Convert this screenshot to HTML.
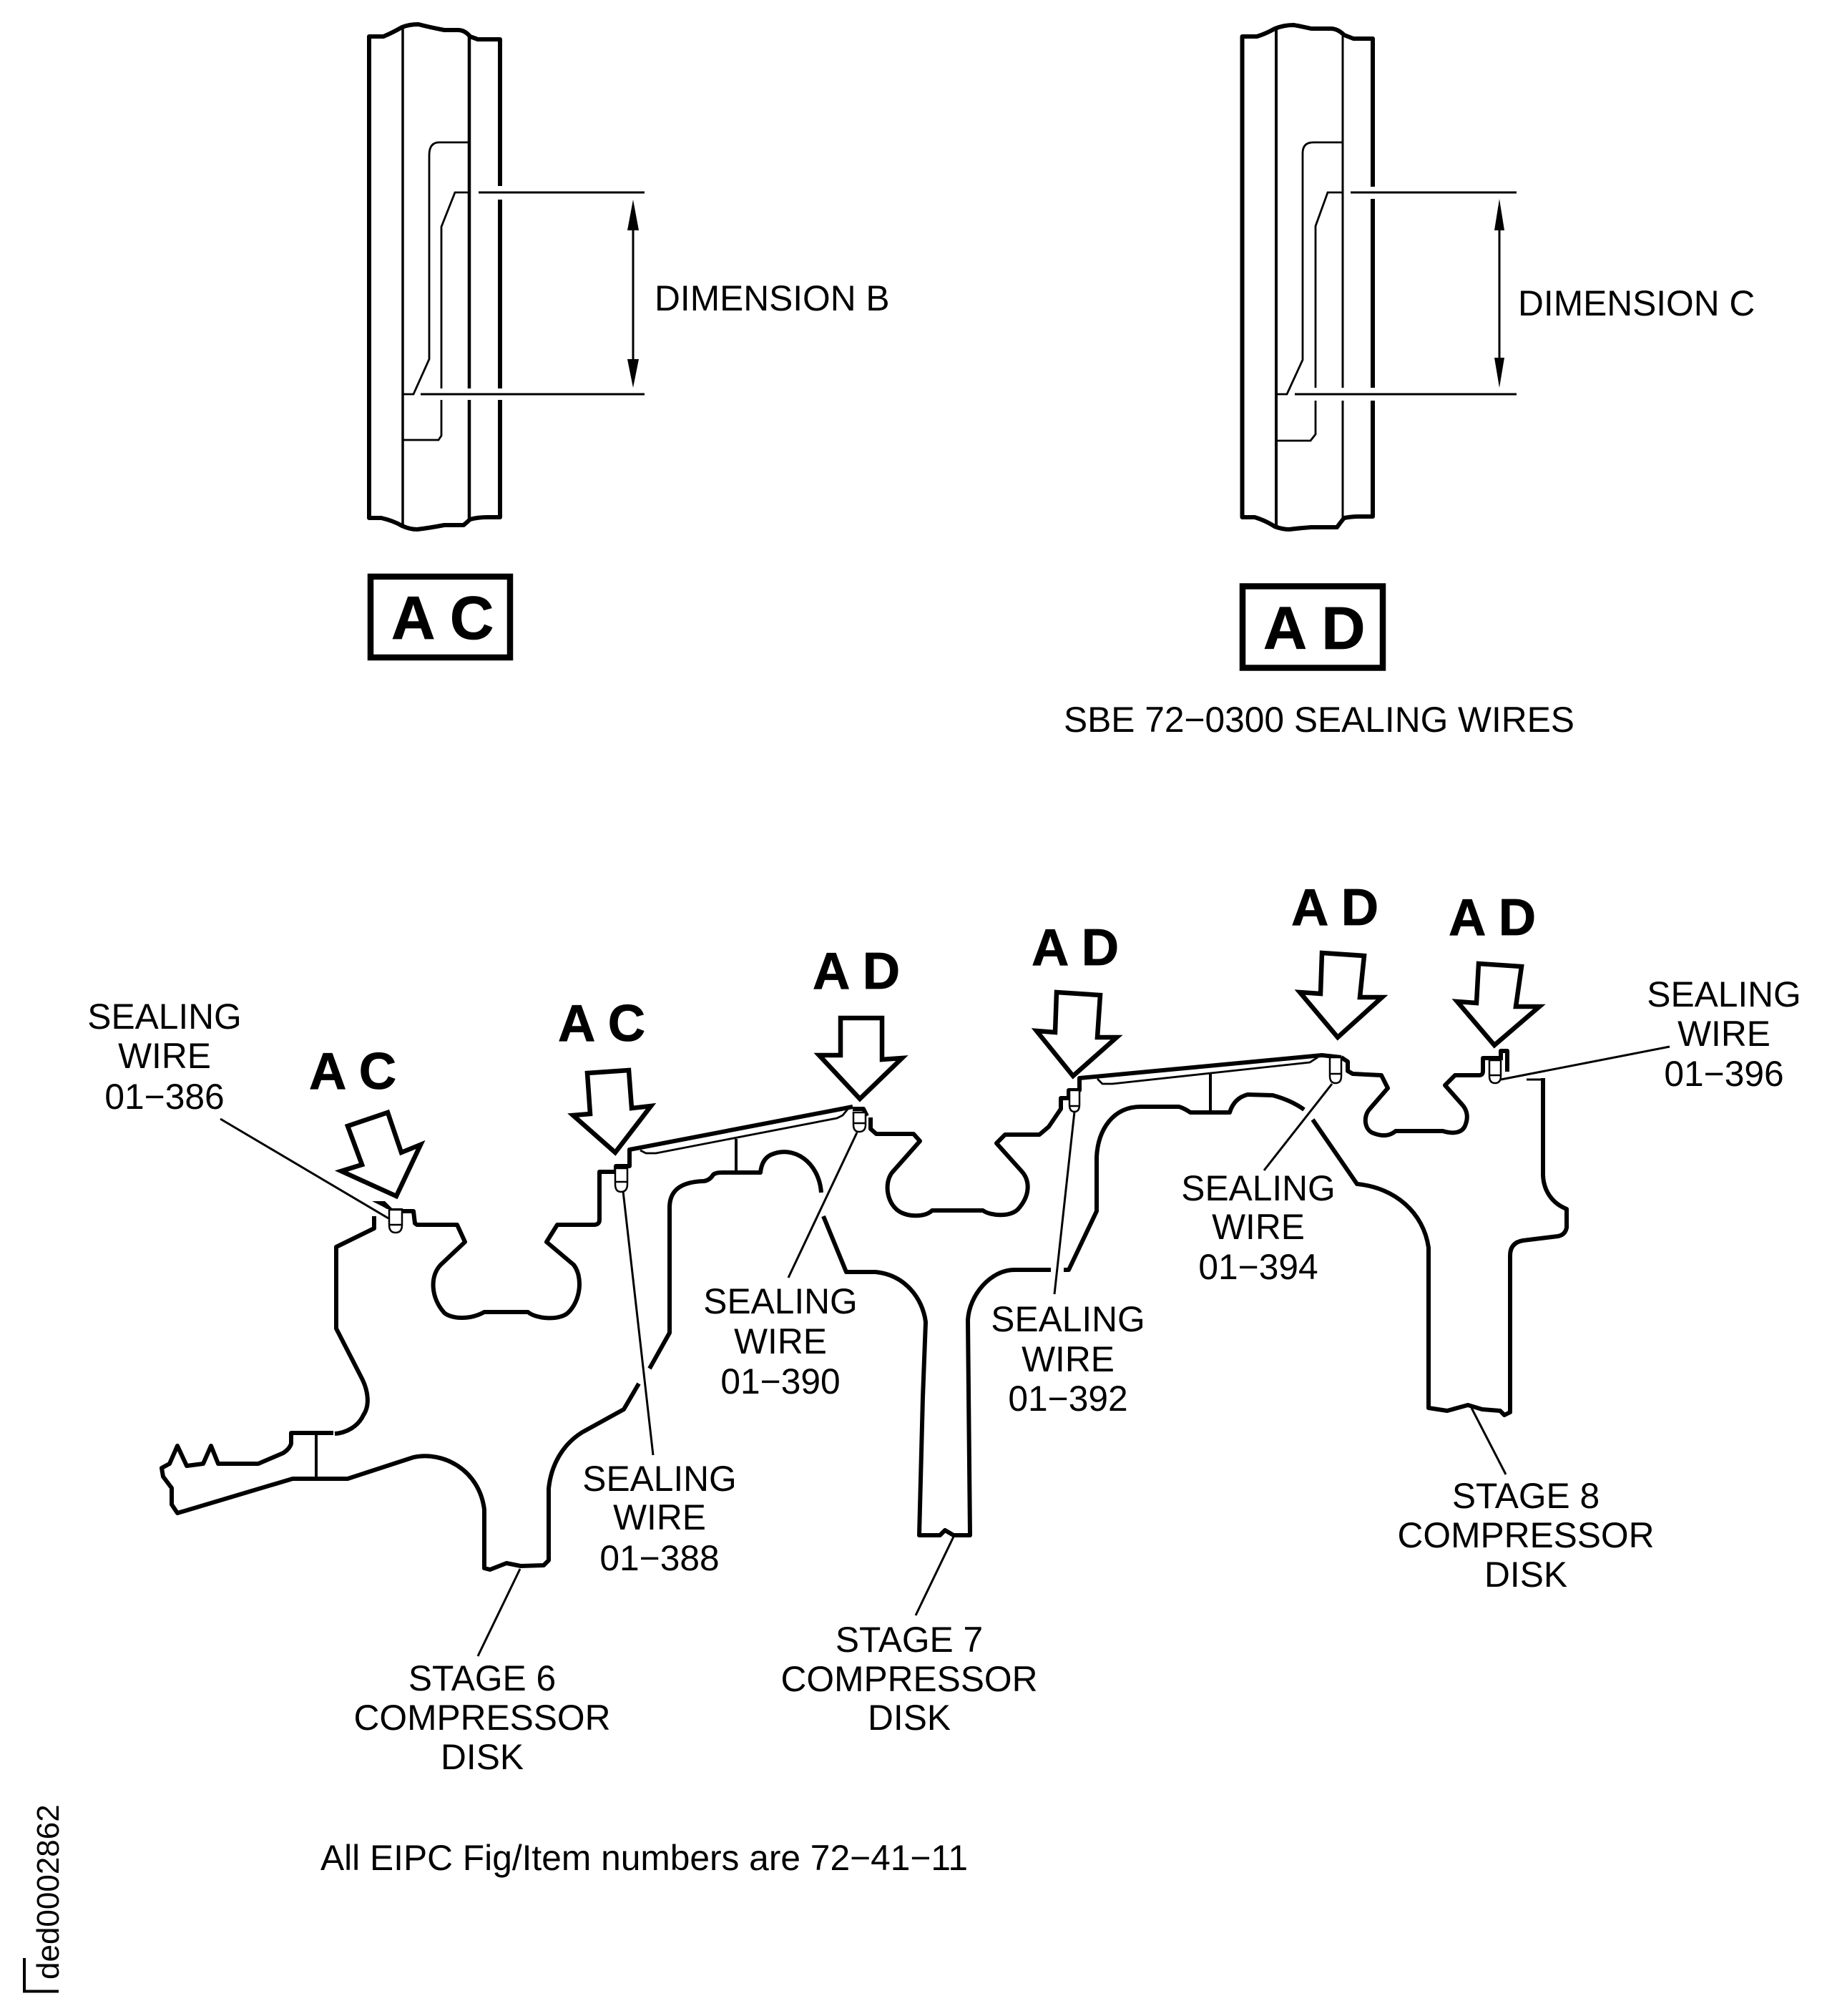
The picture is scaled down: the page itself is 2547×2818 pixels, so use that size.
<!DOCTYPE html>
<html><head><meta charset="utf-8"><style>
html,body{margin:0;padding:0;background:#fff}
svg{display:block}
text{font-family:"Liberation Sans",Arial,sans-serif;fill:#000}
.t{font-size:49.7px;text-anchor:middle}
.l{font-size:49.7px}
.b{font-size:72.5px;font-weight:700;stroke:#000;stroke-width:.8}
.m{fill:none;stroke:#000;stroke-width:6;stroke-linejoin:round;stroke-linecap:butt}
.a{fill:#fff;stroke:#000;stroke-width:6.500;stroke-linejoin:miter;stroke-miterlimit:6}
.n{fill:none;stroke:#000;stroke-width:3}
.c{fill:#fff;stroke:#000;stroke-width:2.5}
</style></head><body>
<svg xmlns="http://www.w3.org/2000/svg" width="2547" height="2818" viewBox="0 0 2547 2818">
<rect width="2547" height="2818" fill="#fff"/>

<!-- Top left section -->
<path class="m" d="M699 260V55H668L657 51Q650 42 640 42H621Q600 38 585 34Q572 34 562 38Q548 46 536 51H516V724H533Q550 728 562 735Q573 740 583 740Q600 738 621 734H648Q653 730 657 726Q668 723 681 723H699V559M699 543V279"/>
<path class="n" style="stroke-width:3.500" d="M563 38V735"/>
<path class="n" style="stroke-width:4.500" d="M656 50V543M656 559V727"/>
<path class="n" style="stroke-width:2.8" d="M654 199H614Q600 199 600 217V502L578 551H564"/>
<path class="n" style="stroke-width:2.8" d="M654 269H636L617 317V543M617 559V609L613 615H564"/>
<path class="n" d="M669 269H901M588 551H901M885 300V520"/>
<path d="M885 279L893 322H877ZM885 542L877 502H893Z"/>
<text class="l" x="915" y="434">DIMENSION B</text>
<rect x="518" y="806" width="195" height="113" fill="none" stroke="#000" stroke-width="8.5"/>
<text class="b" x="547" y="893" style="font-size:85px">A C</text>

<!-- Top right section -->
<path class="m" d="M1919 261V54H1892L1879 49Q1870 40 1860 40H1833Q1815 36 1808 35Q1795 35 1782 40Q1770 47 1757 51H1736.500V723H1754Q1770 728 1782 736Q1793 740 1802 740Q1818 738 1833 737H1869Q1874 730 1879 724Q1890 722 1899 722H1919V560M1919 542V278"/>
<path class="n" style="stroke-width:4" d="M1784 40V736"/>
<path class="n" style="stroke-width:3" d="M1877 48V542M1877 560V726"/>
<path class="n" style="stroke-width:2.8" d="M1877 199H1836Q1821 199 1821 214V503L1799 551H1784"/>
<path class="n" style="stroke-width:2.8" d="M1877 269H1856L1839 316V542M1839 560V607L1832 616H1784"/>
<path class="n" d="M1888 269H2120M1810 551H2120M2096 300V520"/>
<path d="M2096 278L2103 322H2089ZM2096 542L2089 500H2103Z"/>
<text class="l" x="2122" y="441">DIMENSION C</text>
<rect x="1737" y="819.5" width="196" height="114" fill="none" stroke="#000" stroke-width="8.5"/>
<text class="b" x="1766" y="907" style="font-size:84.500px">A D</text>
<text class="l" x="1487" y="1023">SBE 72−0300 SEALING WIRES</text>

<!-- Stage 6 disk -->
<path class="m" d="M523 1700V1717L470 1743V1857L506 1927C515 1945 517 1965 508 1978C500 1995 483 2003 468 2004M466 2003H407V2018Q405 2025 396 2031L361 2046H305L295 2021L284 2046L261 2049L248 2021L237 2046L226 2052L228 2064L240 2080V2103L248 2115L409 2067H486L578 2037C620 2028 670 2055 677 2110V2192L685 2194L708 2185L728 2189L760 2188L767 2181V2081C770 2050 785 2020 814 2002L872 1970L893 1934"/>
<path class="m" d="M442 2004V2066" style="stroke-width:4"/>
<path class="m" d="M908 1913L936 1863V1688C936 1665 950 1652 984 1651Q992 1650 997 1642Q1000 1639 1010 1639H1063Q1065 1620 1078 1614C1110 1600 1145 1625 1148 1667"/>
<path class="m" d="M1151 1700L1183 1778H1224C1265 1782 1290 1815 1294 1848L1290 1953L1285 2146H1314L1321 2139L1333 2146H1356L1353 1845C1355 1810 1385 1775 1418 1775H1469"/>
<path class="m" d="M1487 1775H1494L1533 1693V1617C1535 1580 1555 1547 1595 1547H1648Q1655 1549 1664 1555H1719Q1725 1535 1744 1530L1779 1531Q1805 1538 1823 1551"/>
<path class="m" d="M1835 1565L1897 1655C1950 1660 1990 1695 1997 1744V1968L2023 1972L2052 1964L2072 1970L2097 1972L2103 1978L2111 1974V1755Q2111 1737 2129 1734L2178 1728Q2188 1726 2190 1716V1690C2170 1682 2158 1665 2157 1643V1507"/>
<path class="n" d="M2134 1509H2157"/>
<path class="m" style="stroke-width:4" d="M1029 1592V1639M1692 1501V1555"/>

<!-- Top seals and lobes -->
<path class="m" d="M563 1693H578L580 1710L583 1712H639L650 1736L616 1768C600 1785 603 1815 621 1835C630 1843 655 1846 677 1834H738C750 1844 782 1846 794 1835C812 1818 815 1785 802 1768L764 1736L779 1712H830Q838 1712 838 1705V1638H861V1630H880V1607L1192 1547"/>
<path class="n" style="stroke-width:2.8" d="M895 1608L903 1612H917L1170 1563L1178 1559L1187 1548"/>
<path class="m" d="M1192 1550H1207L1212 1560M1217 1562V1578L1225 1585H1277L1286 1595L1247 1639C1235 1655 1240 1685 1260 1695C1275 1702 1295 1700 1303 1692H1374C1385 1700 1415 1702 1425 1688C1440 1670 1440 1650 1428 1637L1393 1598L1405 1586H1453L1466 1575L1483 1550V1535H1494V1524H1509V1507L1848 1475L1875 1478"/>
<path class="n" style="stroke-width:2.8" d="M1534 1508L1541 1515H1555L1831 1485L1842 1478"/>
<path class="m" d="M1875 1478L1884 1484V1497L1891 1501L1931 1503L1940 1521L1914 1551C1905 1562 1908 1580 1920 1584C1935 1590 1945 1586 1951 1581H2017C2030 1585 2045 1585 2049 1571C2053 1560 2050 1550 2043 1543L2020 1517L2034 1503H2068Q2073 1503 2073 1497V1479H2098"/>
<path class="m" d="M2098 1482V1469H2107V1498"/>

<!-- Clips -->
<path d="M520 1679H538L549 1690H541L534 1686Z"/>
<path class="m" d="M543 1692H563"/>
<path class="c" d="M544 1691H562V1712Q562 1723 553 1723Q544 1723 544 1712ZM544 1712H562"/>
<path class="c" d="M860 1633H877V1655Q877 1666 868 1666Q860 1666 860 1655ZM860 1652H877"/>
<path class="c" d="M1193 1555H1210V1572Q1210 1582 1201 1582Q1193 1582 1193 1572ZM1193 1570H1210"/>
<path class="c" d="M1495 1524H1509V1544Q1509 1554 1502 1554Q1495 1554 1495 1544ZM1495 1546H1509"/>
<path class="c" d="M1859 1478H1875V1504Q1875 1514 1867 1514Q1859 1514 1859 1504ZM1859 1501H1875"/>
<path class="c" d="M2082 1482H2098V1504Q2098 1514 2090 1514Q2082 1514 2082 1504ZM2082 1503H2098"/>

<!-- Arrows -->
<polygon class="a" points="486,1574 542,1555 561,1611 588,1600 554,1672 477,1637 506,1628"/>
<polygon class="a" points="821,1500 879,1496 883,1549 910,1546 860,1611 801,1559 825,1557"/>
<polygon class="a" points="1175,1423 1233,1423 1233,1481 1261,1479 1202,1536 1145,1475 1175,1475"/>
<polygon class="a" points="1477,1387 1538,1391 1534,1450 1561,1450 1500,1504 1449,1441 1475,1443"/>
<polygon class="a" points="1848,1332 1907,1336 1901,1394 1932,1394 1870,1450 1817,1387 1846,1389"/>
<polygon class="a" points="2067,1347 2127,1351 2119,1407 2152,1407 2089,1461 2037,1400 2064,1402"/>

<text class="b" x="432" y="1522">A C</text>
<text class="b" x="780" y="1455">A C</text>
<text class="b" x="1136" y="1382">A D</text>
<text class="b" x="1442" y="1349">A D</text>
<text class="b" x="1805" y="1293">A D</text>
<text class="b" x="2025" y="1307">A D</text>

<!-- Leaders -->
<path class="n" d="M308 1564L543 1703M871 1665L913 2034M1198 1583L1102 1786M1502 1554L1474 1809M1862 1515L1767 1636M2098 1509L2334 1463M727 2193L668 2315M1333 2148L1280 2258M2057 1968L2105 2061"/>

<!-- Labels -->
<text class="t" x="230" y="1438">SEALING</text><text class="t" x="230" y="1493">WIRE</text><text class="t" x="230" y="1550">01−386</text>
<text class="t" x="922" y="2084">SEALING</text><text class="t" x="922" y="2138">WIRE</text><text class="t" x="922" y="2195">01−388</text>
<text class="t" x="1091" y="1836">SEALING</text><text class="t" x="1091" y="1892">WIRE</text><text class="t" x="1091" y="1948">01−390</text>
<text class="t" x="1493" y="1861">SEALING</text><text class="t" x="1493" y="1917">WIRE</text><text class="t" x="1493" y="1972">01−392</text>
<text class="t" x="1759" y="1678">SEALING</text><text class="t" x="1759" y="1732">WIRE</text><text class="t" x="1759" y="1788">01−394</text>
<text class="t" x="2410" y="1407">SEALING</text><text class="t" x="2410" y="1462">WIRE</text><text class="t" x="2410" y="1518">01−396</text>
<text class="t" x="674" y="2363">STAGE 6</text><text class="t" x="674" y="2418">COMPRESSOR</text><text class="t" x="674" y="2473">DISK</text>
<text class="t" x="1271" y="2309">STAGE 7</text><text class="t" x="1271" y="2364">COMPRESSOR</text><text class="t" x="1271" y="2418">DISK</text>
<text class="t" x="2133" y="2108">STAGE 8</text><text class="t" x="2133" y="2163">COMPRESSOR</text><text class="t" x="2133" y="2218">DISK</text>
<text class="l" x="448" y="2614">All EIPC Fig/Item numbers are 72−41−11</text>

<!-- Corner -->
<text x="82" y="2767" transform="rotate(-90 82 2767)" style="font-size:44px">ded0002862</text>
<path d="M34 2737V2783.500H82" fill="none" stroke="#000" stroke-width="4"/>
</svg>
</body></html>
